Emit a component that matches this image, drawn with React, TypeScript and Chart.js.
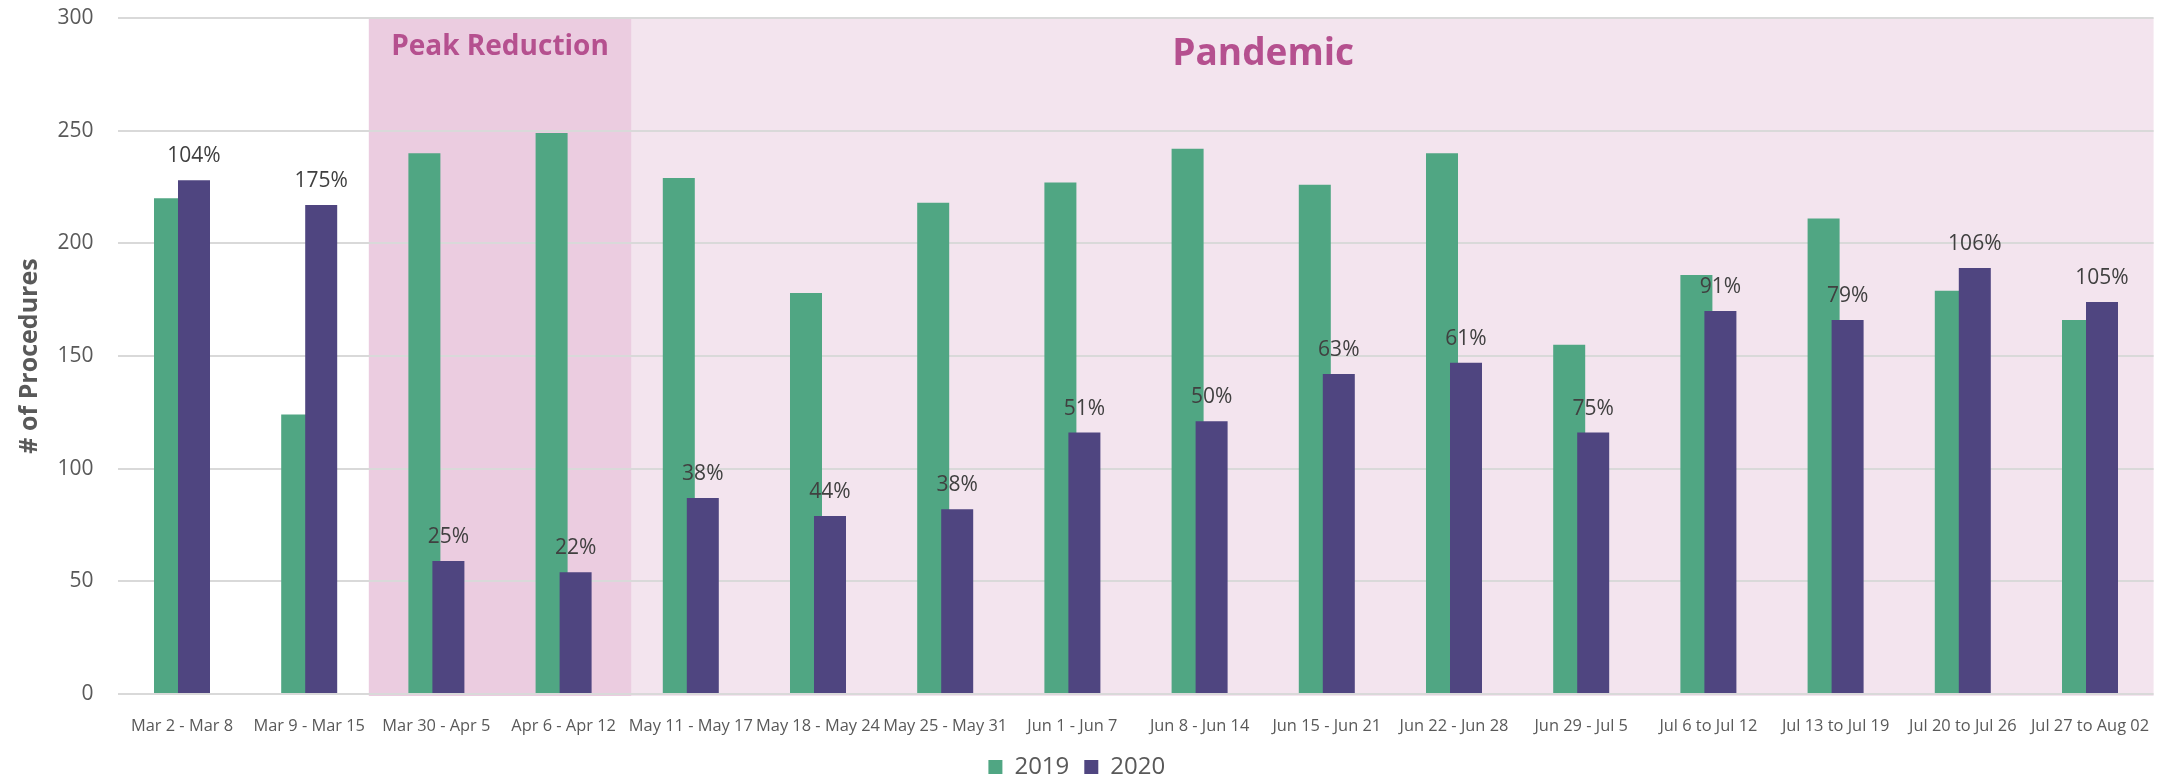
import { useEffect, useRef } from "react";
import { Chart, registerables } from "chart.js";

Chart.register(...registerables);

// Weekly procedure counts, 2019 vs 2020
const weeks = [
  "Mar 2 - Mar 8",
  "Mar 9 - Mar 15",
  "Mar 30 - Apr 5",
  "Apr 6 - Apr 12",
  "May 11 - May 17",
  "May 18 - May 24",
  "May 25 - May 31",
  "Jun 1 - Jun 7",
  "Jun 8 - Jun 14",
  "Jun 15 - Jun 21",
  "Jun 22 - Jun 28",
  "Jun 29 - Jul 5",
  "Jul 6 to Jul 12",
  "Jul 13 to Jul 19",
  "Jul 20 to Jul 26",
  "Jul 27 to Aug 02",
];

const procedures2019 = [220, 124, 240, 249, 229, 178, 218, 227, 242, 226, 240, 155, 186, 211, 179, 166];
const procedures2020 = [228, 217, 59, 54, 87, 79, 82, 116, 121, 142, 147, 116, 170, 166, 189, 174];

// Shaded periods, given as first and last week index
const phaseNames = ["Peak Reduction", "Pandemic"];
const phaseFirstWeek = [2, 4];
const phaseLastWeek = [3, 15];

const yMin = 0;
const yMax = 300;
const yStep = 50;

const GREEN = "#50A683";
const PURPLE = "#4F4580";
const TEXT = "#595959";
const FONT = "'Open Sans', 'Noto Sans', sans-serif";

const phaseStyles = [
  { fill: "#EBCCE0", font: `bold 28px ${FONT}`, baseline: 55, anchor: null as number | null },
  { fill: "#F3E4EE", font: `bold 37px ${FONT}`, baseline: 65, anchor: 8.5 },
];
const BAND_BLEED = 4;

const phaseBands = {
  id: "phaseBands",
  beforeDraw(chart: any) {
    const { ctx, chartArea, scales } = chart;
    const x = scales.x;
    ctx.save();
    // later periods first, so earlier bands overlap their shared edge
    for (let i = phaseNames.length - 1; i >= 0; i--) {
      const left = x.getPixelForValue(phaseFirstWeek[i] - 0.5) - BAND_BLEED;
      const right = Math.min(x.getPixelForValue(phaseLastWeek[i] + 0.5) + BAND_BLEED, chartArea.right);
      const st = phaseStyles[i];
      ctx.fillStyle = st.fill;
      ctx.fillRect(left, chartArea.top, right - left, chartArea.bottom - chartArea.top + 2);
      const cx = st.anchor === null ? (left + right) / 2 : x.getPixelForValue(st.anchor);
      ctx.fillStyle = "#B5508F";
      ctx.font = st.font;
      ctx.textAlign = "center";
      ctx.textBaseline = "alphabetic";
      ctx.fillText(phaseNames[i], cx, st.baseline);
    }
    ctx.restore();
  },
};

// Draw 2019 first so the 2020 bars sit over them, then the ratio labels
const layeredBars = {
  id: "layeredBars",
  beforeDatasetsDraw(chart: any) {
    [0, 1].forEach((i) => {
      const meta = chart.getDatasetMeta(i);
      if (!meta.hidden) meta.controller.draw();
    });
    return false;
  },
  afterDraw(chart: any) {
    const { ctx } = chart;
    const meta = chart.getDatasetMeta(1);
    ctx.save();
    ctx.fillStyle = "#404040";
    ctx.font = `21px ${FONT}`;
    ctx.textAlign = "center";
    ctx.textBaseline = "alphabetic";
    meta.data.forEach((bar: any, i: number) => {
      const pct = Math.round((procedures2020[i] / procedures2019[i]) * 100);
      ctx.fillText(`${pct}%`, bar.x, bar.y - 18);
    });
    ctx.restore();
  },
};

export default function App() {
  const canvasRef = useRef<HTMLCanvasElement | null>(null);

  useEffect(() => {
    const canvas = canvasRef.current;
    if (!canvas) return;
    const chart = new Chart(canvas, {
      type: "bar",
      data: {
        labels: weeks,
        datasets: [
          {
            label: "2019",
            data: procedures2019,
            backgroundColor: GREEN,
            borderWidth: 0,
            categoryPercentage: 0.3774,
            barPercentage: 1.3333,
          },
          {
            label: "2020",
            data: procedures2020,
            backgroundColor: PURPLE,
            borderWidth: 0,
            categoryPercentage: 0.3774,
            barPercentage: 1.3333,
          },
        ],
      },
      options: {
        responsive: false,
        animation: false,
        devicePixelRatio: 1,
        layout: { padding: { top: 18, right: 18.4, bottom: 0, left: 0 } },
        plugins: {
          tooltip: { enabled: false },
          legend: {
            position: "bottom",
            labels: {
              boxWidth: 14,
              boxHeight: 14,
              padding: 15,
              color: TEXT,
              font: { family: FONT, size: 24 },
            },
          },
        },
        scales: {
          x: {
            grid: { display: false },
            border: { display: false },
            ticks: {
              color: TEXT,
              font: { family: FONT, size: 16.4 },
              padding: 14,
              maxRotation: 0,
              autoSkip: false,
            },
            afterFit(scale: any) {
              scale.height = 46;
              scale.paddingLeft = 0;
              scale.paddingRight = 0;
            },
          },
          y: {
            min: yMin,
            max: yMax,
            grid: { color: "#D9D9D9", lineWidth: 2, drawTicks: false },
            border: { display: false },
            ticks: {
              stepSize: yStep,
              color: TEXT,
              font: { family: FONT, size: 21 },
              padding: 25,
            },
            title: {
              display: true,
              text: "# of Procedures",
              color: TEXT,
              font: { family: FONT, size: 25, weight: "bold" },
              padding: { top: 15, bottom: 0 },
            },
            afterFit(scale: any) {
              scale.width = 118.4;
              scale.paddingTop = 0;
              scale.paddingBottom = 0;
            },
          },
        },
      },
      plugins: [phaseBands, layeredBars],
    });
    return () => chart.destroy();
  }, []);

  return (
    <div style={{ position: "fixed", left: 0, top: 0, width: 2172, height: 789, background: "#fff" }}>
      <canvas ref={canvasRef} width={2172} height={789} style={{ display: "block" }} />
    </div>
  );
}
